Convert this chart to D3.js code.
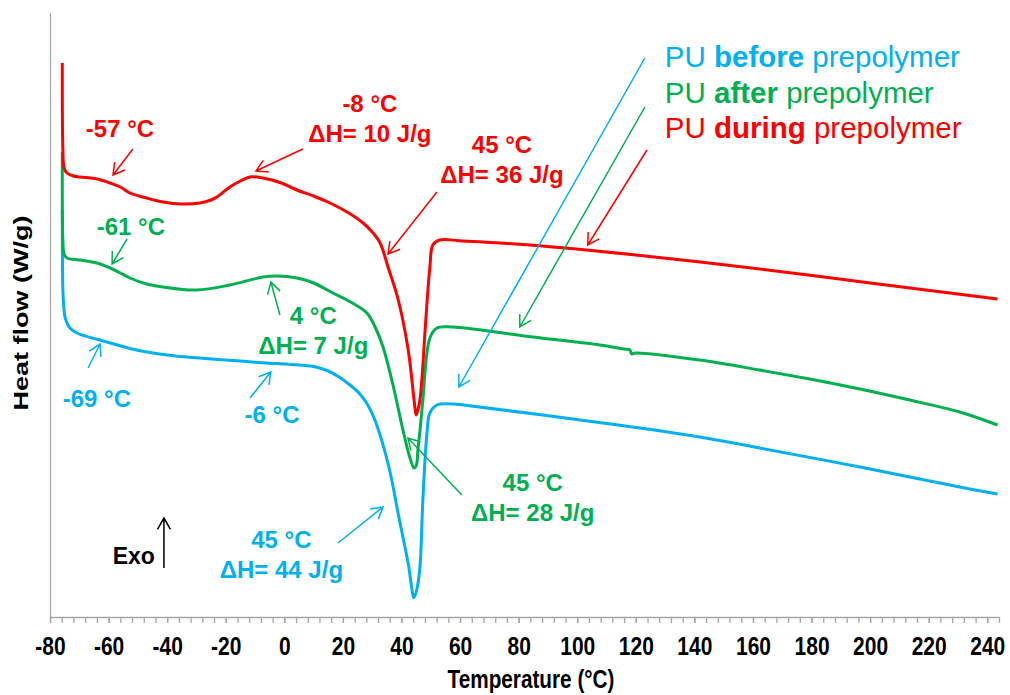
<!DOCTYPE html>
<html>
<head>
<meta charset="utf-8">
<script src="https://cdn.jsdelivr.net/npm/d3@7"></script>
<style>
  body { margin: 0; background: #fff; }
  svg { display: block; }
  text { font-family: "Liberation Sans", Arial, sans-serif; }
</style>
</head>
<body>
<div id="chart"></div>
<script>
// Axis ticks (°C)
const majorTicks = d3.range(-80, 241, 20);
const minorTicks = d3.range(-80, 245, 4);

// DSC curves: temperature (°C) and heat flow (arbitrary W/g offset)
const duringTemp = [-75.8, -75.6, -75.2, -74.2, -72, -69.8, -64, -59.5, -56, -52.7, -47, -41.4, -35, -28.8, -25, -23, -18.6, -15, -11.7, -7.3, -1, 4.3, 10, 15.6, 22, 26.9, 30, 32.7, 35.4, 38.9, 42.3, 44.3, 45, 45.6, 46.3, 47.2, 48, 49.7, 50.7, 53, 60.9, 83.7, 120, 165, 200, 243.5];
const duringFlow = [-0.63, -1.50, -1.68, -1.73, -1.76, -1.77, -1.79, -1.83, -1.87, -1.93, -1.98, -2.02, -2.04, -2.03, -2.00, -1.97, -1.87, -1.81, -1.77, -1.78, -1.83, -1.90, -1.96, -2.03, -2.13, -2.23, -2.32, -2.43, -2.67, -3.00, -3.50, -4.00, -4.15, -4.10, -4.00, -3.70, -3.33, -2.67, -2.45, -2.40, -2.41, -2.45, -2.55, -2.70, -2.83, -2.99];

const afterTemp = [-75.8, -75.6, -75.2, -74.2, -69.8, -64, -59.5, -56, -52.7, -47, -41.4, -30, -18.6, -7.3, -2.5, 4.3, 10, 16.6, 22, 28.2, 31, 33.7, 37.1, 40.5, 42.9, 44.3, 45.1, 45.6, 46.5, 47.3, 49.7, 52.1, 57.5, 84.8, 107.7, 116, 118, 118.6, 120, 141.8, 162.3, 179.4, 196.5, 213.5, 230.6, 243.5];
const afterFlow = [-1.52, -2.40, -2.54, -2.58, -2.60, -2.63, -2.68, -2.73, -2.78, -2.84, -2.87, -2.90, -2.85, -2.77, -2.76, -2.78, -2.83, -2.93, -3.01, -3.13, -3.27, -3.47, -3.85, -4.30, -4.58, -4.68, -4.65, -4.50, -4.25, -4.00, -3.38, -3.28, -3.27, -3.37, -3.45, -3.49, -3.50, -3.54, -3.53, -3.60, -3.70, -3.79, -3.89, -4.00, -4.12, -4.25];

const beforeTemp = [-75.8, -75.6, -75.2, -74.8, -73.2, -70, -63, -57, -52, -40, -29, -15, -6.2, 5, 10.8, 15, 18.7, 22, 25.5, 28.5, 31.3, 35.7, 39.1, 42.5, 43.5, 44.2, 45.2, 46.3, 47.3, 48.7, 49.7, 52.1, 57.8, 61.2, 108.7, 141.8, 162.3, 196.5, 230.6, 243.5];
const beforeFlow = [-2.10, -2.90, -3.10, -3.18, -3.28, -3.34, -3.40, -3.45, -3.49, -3.55, -3.58, -3.61, -3.63, -3.65, -3.67, -3.71, -3.77, -3.84, -3.93, -4.05, -4.23, -4.67, -5.17, -5.67, -5.88, -5.98, -5.90, -5.67, -5.00, -4.33, -4.13, -4.05, -4.04, -4.05, -4.23, -4.37, -4.48, -4.67, -4.87, -4.94];

const colors = { before: "#00b0f0", after: "#00b050", during: "#ff0000" };

// Annotation texts: series, lines, anchor (°C, flow)
const noteTexts = [
  { key: "during", lines: ["-57 °C"], t: -56.1, f: -1.37 },
  { key: "during", lines: ["-8 °C", "ΔH= 10 J/g"], t: 29.2, f: -1.12 },
  { key: "during", lines: ["45 °C", "ΔH= 36 J/g"], t: 74.3, f: -1.53 },
  { key: "after", lines: ["-61 °C"], t: -52.4, f: -2.35 },
  { key: "after", lines: ["4 °C", "ΔH= 7 J/g"], t: 9.9, f: -3.24 },
  { key: "after", lines: ["45 °C", "ΔH= 28 J/g"], t: 84.8, f: -4.91 },
  { key: "before", lines: ["-69 °C"], t: -64, f: -4.07 },
  { key: "before", lines: ["-6 °C"], t: -4.2, f: -4.23 },
  { key: "before", lines: ["45 °C", "ΔH= 44 J/g"], t: -1.0, f: -5.48 }
];

// Annotation arrows: from (°C, flow) to tip (°C, flow)
const noteArrows = [
  { key: "during", from: [-51.7, -1.49], to: [-58.5, -1.75] },
  { key: "during", from: [6.3, -1.49], to: [-9.7, -1.71] },
  { key: "during", from: [52.1, -1.92], to: [35.4, -2.54] },
  { key: "during", from: [123.8, -1.50], to: [103.6, -2.45] },
  { key: "after", from: [-53.7, -2.39], to: [-58.8, -2.64] },
  { key: "after", from: [-1.5, -3.15], to: [-4.6, -2.82] },
  { key: "after", from: [60.6, -4.95], to: [42.2, -4.38] },
  { key: "after", from: [123.1, -1.07], to: [80.4, -3.27] },
  { key: "before", from: [-67, -3.68], to: [-62.9, -3.44] },
  { key: "before", from: [-11.7, -3.98], to: [-4.6, -3.72] },
  { key: "before", from: [18.3, -5.43], to: [33.7, -5.07] },
  { key: "before", from: [123.1, -0.58], to: [59.6, -3.87] }
];

const legendItems = [
  { key: "before", word: "before", f: -0.67 },
  { key: "after", word: "after", f: -1.03 },
  { key: "during", word: "during", f: -1.38 }
];

const width = 1010, height = 695;

const svg = d3.select("#chart")
  .append("svg")
  .attr("width", width)
  .attr("height", height);

const x = d3.scaleLinear().domain([-80, 244]).range([50, 999]);
const y = d3.scaleLinear().domain([-6.17, -0.13]).range([617, 13]);

// X axis: minor ticks first, then labelled major ticks
const minorAxis = svg.append("g")
  .attr("transform", "translate(0,617)")
  .call(d3.axisBottom(x).tickValues(minorTicks).tickSize(6).tickSizeOuter(0).tickFormat(""));
minorAxis.select(".domain").remove();

const xAxis = svg.append("g")
  .attr("transform", "translate(0,617)")
  .call(d3.axisBottom(x).tickValues(majorTicks).tickSize(6).tickSizeOuter(0).tickFormat(d => String(d)));

svg.selectAll(".tick line, .domain")
  .attr("stroke", "#a6a6a6")
  .attr("stroke-width", 1.3);

xAxis.selectAll(".tick text")
  .attr("y", 20)
  .attr("dy", "0.71em")
  .attr("fill", "#000")
  .attr("font-size", 25)
  .attr("font-weight", "bold")
  .attr("transform", "scale(0.84,1)");

// Y axis: bare line, no ticks
svg.append("g")
  .attr("transform", "translate(50,0)")
  .call(d3.axisLeft(y).tickValues([]).tickSizeOuter(0))
  .select(".domain")
  .attr("stroke", "#a6a6a6")
  .attr("stroke-width", 1.3);

// Axis titles
svg.append("text")
  .attr("transform", "translate(531,688) scale(0.83,1)")
  .attr("text-anchor", "middle")
  .attr("font-size", 25)
  .attr("font-weight", "bold")
  .text("Temperature (°C)");

svg.append("text")
  .attr("transform", "translate(28,313) rotate(-90) scale(1.35,1)")
  .attr("text-anchor", "middle")
  .attr("font-size", 20)
  .attr("font-weight", "bold")
  .text("Heat flow (W/g)");

// Curves
const series = [
  { key: "before", temp: beforeTemp, flow: beforeFlow },
  { key: "after", temp: afterTemp, flow: afterFlow },
  { key: "during", temp: duringTemp, flow: duringFlow }
];

const line = d3.line()
  .x(d => x(d[0]))
  .y(d => y(d[1]))
  .curve(d3.curveCatmullRom.alpha(0.5));

svg.selectAll("path.curve")
  .data(series)
  .enter()
  .append("path")
  .attr("class", "curve")
  .attr("fill", "none")
  .attr("stroke", d => colors[d.key])
  .attr("stroke-width", 3)
  .attr("stroke-linejoin", "round")
  .attr("d", d => line(d.temp.map((t, i) => [t, d.flow[i]])));

// Open arrowhead helper
function arrowPath(x1, y1, x2, y2) {
  const a = Math.atan2(y2 - y1, x2 - x1), len = 13, spread = Math.PI / 6;
  const p1 = [x2 - len * Math.cos(a - spread), y2 - len * Math.sin(a - spread)];
  const p2 = [x2 - len * Math.cos(a + spread), y2 - len * Math.sin(a + spread)];
  return `M${x1},${y1}L${x2},${y2}M${p1[0]},${p1[1]}L${x2},${y2}L${p2[0]},${p2[1]}`;
}

svg.selectAll("path.note-arrow")
  .data(noteArrows)
  .enter()
  .append("path")
  .attr("class", "note-arrow")
  .attr("fill", "none")
  .attr("stroke", d => colors[d.key])
  .attr("stroke-width", 1.5)
  .attr("d", d => arrowPath(x(d.from[0]), y(d.from[1]), x(d.to[0]), y(d.to[1])));

// Annotation labels
const notes = svg.selectAll("text.note")
  .data(noteTexts)
  .enter()
  .append("text")
  .attr("class", "note")
  .attr("text-anchor", "middle")
  .attr("font-size", 24)
  .attr("font-weight", "bold")
  .attr("fill", d => colors[d.key]);

notes.each(function(d) {
  d3.select(this).selectAll("tspan")
    .data(d.lines)
    .enter()
    .append("tspan")
    .attr("x", x(d.t))
    .attr("y", y(d.f))
    .attr("dy", (l, i) => i === 0 ? 0 : "1.27em")
    .text(l => l);
});

// Exo marker
svg.append("text")
  .attr("x", x(-44.2))
  .attr("y", y(-5.64))
  .attr("text-anchor", "end")
  .attr("font-size", 23)
  .attr("font-weight", "bold")
  .text("Exo");

svg.append("path")
  .attr("fill", "none")
  .attr("stroke", "#000")
  .attr("stroke-width", 1.5)
  .attr("d", arrowPath(x(-41.1), y(-5.68), x(-41.1), y(-5.18)));

// Legend
const legend = svg.selectAll("text.legend")
  .data(legendItems)
  .enter()
  .append("text")
  .attr("class", "legend")
  .attr("x", x(129.9))
  .attr("y", d => y(d.f))
  .attr("font-size", 29.5)
  .attr("fill", d => colors[d.key]);

legend.append("tspan").text("PU ");
legend.append("tspan").attr("font-weight", "bold").text(d => d.word);
legend.append("tspan").text(" prepolymer");
</script>
</body>
</html>
